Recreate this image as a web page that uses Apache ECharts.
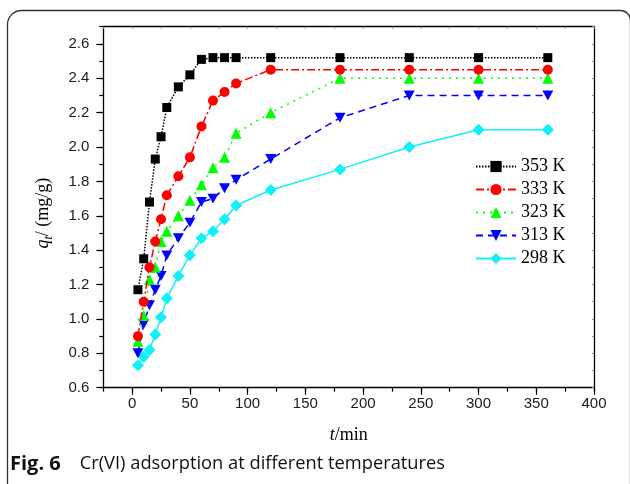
<!DOCTYPE html>
<html>
<head>
<meta charset="utf-8">
<script src="https://cdn.jsdelivr.net/npm/echarts@6/dist/echarts.min.js"></script>
<style>
  html, body { margin: 0; padding: 0; background: #fff; }
  #chart { width: 630px; height: 484px; }
</style>
</head>
<body>
<div id="chart"></div>
<script>
// Contact time (min) and adsorbed amount q_t (mg/g) at each temperature
const times = [5, 10, 15, 20, 25, 30, 40, 50, 60, 70, 80, 90, 120, 180, 240, 300, 360];
const q353 = [1.17, 1.35, 1.68, 1.93, 2.06, 2.23, 2.35, 2.42, 2.51, 2.52, 2.52, 2.52, 2.52, 2.52, 2.52, 2.52, 2.52];
const q333 = [0.90, 1.10, 1.30, 1.45, 1.58, 1.72, 1.83, 1.94, 2.12, 2.27, 2.32, 2.37, 2.45, 2.45, 2.45, 2.45, 2.45];
const q323 = [0.87, 1.02, 1.23, 1.30, 1.45, 1.51, 1.60, 1.69, 1.78, 1.88, 1.94, 2.08, 2.20, 2.40, 2.40, 2.40, 2.40];
const q313 = [0.80, 0.97, 1.08, 1.17, 1.25, 1.37, 1.47, 1.56, 1.68, 1.70, 1.76, 1.81, 1.93, 2.17, 2.30, 2.30, 2.30];
const q298 = [0.73, 0.78, 0.82, 0.91, 1.01, 1.12, 1.25, 1.37, 1.47, 1.51, 1.58, 1.66, 1.75, 1.87, 2.00, 2.10, 2.10];
const seriesNames = ['353 K', '333 K', '323 K', '313 K', '298 K'];
const xTickValues = [0, 50, 100, 150, 200, 250, 300, 350, 400];
const yTickValues = [0.6, 0.8, 1.0, 1.2, 1.4, 1.6, 1.8, 2.0, 2.2, 2.4, 2.6];

const X_MIN = -25, X_MAX = 400, Y_MIN = 0.6, Y_MAX = 2.7;
const G = { left: 103.3, right: 36, top: 26.7, bottom: 96.3 };
const W = 630, H = 484;
const plotW = W - G.left - G.right;
const plotH = H - G.top - G.bottom;
const pxPerX = plotW / (X_MAX - X_MIN);
const pxPerY = plotH / (Y_MAX - Y_MIN);
// second (label) grid starts at x = 0 and ends at y = 2.6
const labelGridLeft = G.left + (xTickValues[0] - X_MIN) * pxPerX;
const labelGridTop = G.top + (Y_MAX - yTickValues[yTickValues.length - 1]) * pxPerY;

const SANS = '"Liberation Sans", Arial, sans-serif';
const SERIF = '"Liberation Serif", "Times New Roman", serif';
const AX = { onZero: false, lineStyle: { color: '#000', width: 1.3 } };
const NO_LINE = { show: false, onZero: false };

function pairs(ys) { return times.map((t, i) => [t, ys[i]]); }

const styles = [
  { color: '#000000', symbol: 'rect', size: 9, dash: [1.5, 1.5] },
  { color: '#ff0000', symbol: 'circle', size: 10, dash: [8, 3, 2, 3] },
  { color: '#00ff00', symbol: 'triangle', size: 11, dash: [2, 5] },
  { color: '#0000ff', symbol: 'path://M0,0L10,0L5,9Z', size: 11, dash: [7, 5] },
  { color: '#10f0f8', symbol: 'diamond', size: 12, dash: 'solid' }
];
const values = [q353, q333, q323, q313, q298];

const chart = echarts.init(document.getElementById('chart'), null, { renderer: 'canvas' });
chart.setOption({
  animation: false,
  backgroundColor: '#fff',
  grid: [
    { left: G.left, right: G.right, top: G.top, bottom: G.bottom, containLabel: false },
    { left: labelGridLeft, right: G.right, top: labelGridTop, bottom: G.bottom, containLabel: false }
  ],
  xAxis: [
    {
      gridIndex: 0, type: 'value', position: 'bottom', min: X_MIN, max: X_MAX, interval: 25,
      axisLine: AX, axisTick: { length: 4, lineStyle: { color: '#000', width: 1.2 } },
      axisLabel: { show: false }, splitLine: { show: false },
      name: '{i|t}{r|/min}', nameLocation: 'middle', nameGap: 39,
      nameTextStyle: {
        rich: {
          i: { fontFamily: SERIF, fontSize: 18, fontStyle: 'italic', color: '#000' },
          r: { fontFamily: SERIF, fontSize: 18, color: '#000' }
        }
      }
    },
    {
      gridIndex: 1, type: 'value', position: 'bottom', min: xTickValues[0], max: xTickValues[xTickValues.length - 1], interval: 50,
      axisLine: NO_LINE, axisTick: { length: 7, lineStyle: { color: '#000', width: 1.2 } },
      axisLabel: { margin: 9, fontFamily: SANS, fontSize: 15, color: '#1a1a1a' },
      splitLine: { show: false }
    },
    {
      gridIndex: 0, type: 'value', position: 'top', min: X_MIN, max: X_MAX, interval: 25,
      axisLine: AX, axisTick: { inside: true, length: 2, lineStyle: { color: '#888', width: 1 } },
      axisLabel: { show: false }, splitLine: { show: false }
    }
  ],
  yAxis: [
    {
      gridIndex: 0, type: 'value', position: 'left', min: Y_MIN, max: Y_MAX, interval: 0.1,
      axisLine: AX, axisTick: { length: 4, lineStyle: { color: '#000', width: 1.2 } },
      axisLabel: { show: false }, splitLine: { show: false },
      name: '{q|q}{t|t}{r|/ (mg/g)}', nameLocation: 'middle', nameGap: 48,
      nameTextStyle: {
        rich: {
          q: { fontFamily: SERIF, fontSize: 18, fontStyle: 'italic', color: '#000', lineHeight: 24 },
          t: { fontFamily: SERIF, fontSize: 12, fontStyle: 'italic', color: '#000', lineHeight: 24, verticalAlign: 'bottom' },
          r: { fontFamily: SERIF, fontSize: 18, color: '#000', lineHeight: 24, padding: [0, 12, 0, 0] }
        }
      }
    },
    {
      gridIndex: 1, type: 'value', position: 'left', offset: labelGridLeft - G.left,
      min: yTickValues[0], max: yTickValues[yTickValues.length - 1], interval: 0.2,
      axisLine: NO_LINE, axisTick: { length: 7, lineStyle: { color: '#000', width: 1.2 } },
      axisLabel: { margin: 14, fontFamily: SANS, fontSize: 15, color: '#1a1a1a', formatter: v => v.toFixed(1) },
      splitLine: { show: false }
    },
    {
      gridIndex: 0, type: 'value', position: 'right', min: Y_MIN, max: Y_MAX, interval: 0.1,
      axisLine: AX, axisTick: { inside: true, length: 2, lineStyle: { color: '#888', width: 1 } },
      axisLabel: { show: false }, splitLine: { show: false }
    }
  ],
  legend: {
    orient: 'vertical', left: 475, top: 157.5, padding: 0,
    itemWidth: 40, itemHeight: 14, itemGap: 5,
    textStyle: { fontFamily: SERIF, fontSize: 18, color: '#000' },
    data: seriesNames
  },
  series: seriesNames.map((name, i) => ({
    name: name, type: 'line', xAxisIndex: 0, yAxisIndex: 0,
    data: pairs(values[i]),
    symbol: styles[i].symbol, symbolSize: styles[i].size,
    symbolKeepAspect: true,
    itemStyle: { color: styles[i].color },
    lineStyle: { color: styles[i].color, width: 1.5, type: styles[i].dash },
    z: 10 - i
  })),
  graphic: [
    {
      type: 'rect', silent: true, z: 100,
      shape: { x: 7.5, y: 10.5, width: 623, height: 520, r: [14, 10, 0, 0] },
      style: { fill: 'none', stroke: '#333', lineWidth: 1.3 }
    },
    {
      type: 'text', left: 10, top: 454, z: 100,
      style: {
        text: '{b|Fig. 6}{n|Cr(VI) adsorption at different temperatures}',
        rich: {
          b: { fontFamily: '"Open Sans", sans-serif', fontWeight: 'bold', fontSize: 20, fill: '#111', padding: [0, 19, 0, 0] },
          n: { fontFamily: '"Open Sans", sans-serif', fontSize: 18.3, fill: '#111' }
        }
      }
    }
  ]
});
</script>
</body>
</html>
